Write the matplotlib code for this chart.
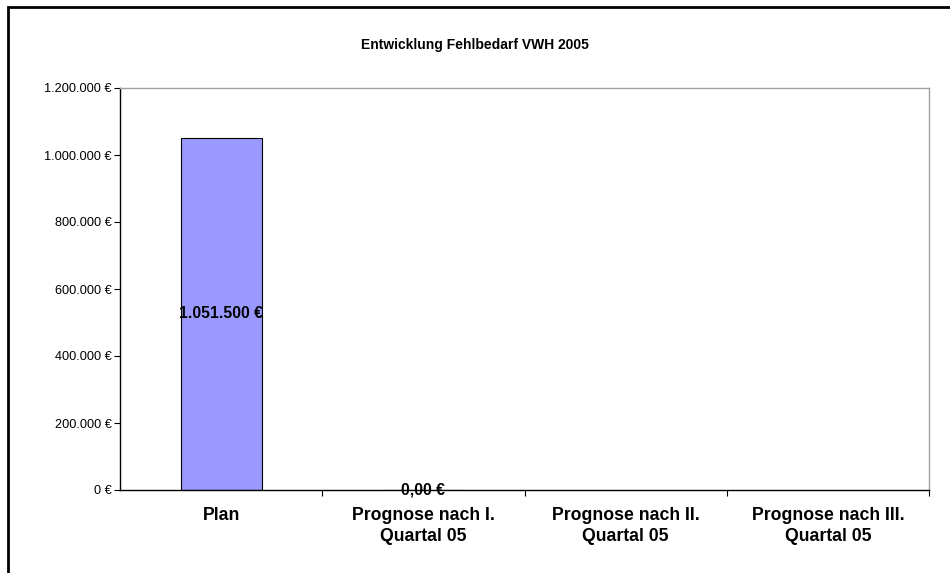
import matplotlib.pyplot as plt
import matplotlib.patches as patches
from matplotlib.ticker import FuncFormatter

plt.rcParams['font.family'] = ['Liberation Sans', 'DejaVu Sans']

# Data
categories = ['Plan', 'Prognose nach I.\nQuartal 05', 'Prognose nach II.\nQuartal 05',
              'Prognose nach III.\nQuartal 05']
values = [1051500, 0]
value_labels = ['1.051.500 €', '0,00 €']
y_ticks = [0, 200000, 400000, 600000, 800000, 1000000, 1200000]


def euro(v, pos=None):
    # German thousands separator
    return '{:,.0f} €'.format(v).replace(',', '.')


fig = plt.figure(figsize=(9.5, 5.73), dpi=100)
W, H = 950, 573
ax = fig.add_axes([120 / W, 1 - 490 / H, (929 - 120) / W, (490 - 88) / H])

x = list(range(len(values)))
ax.bar(x, values, width=0.4, color='#9999FF', edgecolor='black', linewidth=0.8, zorder=2)

for xi, v, lab in zip(x, values, value_labels):
    ax.text(xi, v / 2, lab, ha='center', va='center', fontsize=11.3, fontweight='bold', zorder=3)

ax.set_xlim(-0.5, len(categories) - 0.5)
ax.set_ylim(0, 1200000)
ax.set_yticks(y_ticks)
ax.yaxis.set_major_formatter(FuncFormatter(euro))
ax.tick_params(axis='y', labelsize=9.2, length=4, width=0.8, direction='out', pad=2)

ax.set_xticks(range(len(categories)))
ax.set_xticklabels(categories, fontsize=12.7, fontweight='bold', linespacing=1.3)
ax.set_xticks([i + 0.5 for i in range(len(categories))], minor=True)
ax.tick_params(axis='x', which='major', length=0, pad=12)
ax.tick_params(axis='x', which='minor', length=4, width=0.8, direction='out')

ax.spines['left'].set_color('black')
ax.spines['bottom'].set_color('black')
ax.spines['top'].set_color('#A0A0A0')
ax.spines['right'].set_color('#A0A0A0')
for s in ax.spines.values():
    s.set_linewidth(1.0)

fig.text(475 / W, 1 - 45 / H, 'Entwicklung Fehlbedarf VWH 2005', ha='center', va='center',
         fontsize=10, fontweight='bold')

# outer chart frame (cut at right and bottom)
frame = patches.Rectangle((8 / W, -0.1), 1.2, 1 - 7 / H + 0.1, transform=fig.transFigure,
                          fill=False, edgecolor='black', linewidth=2)
fig.patches.append(frame)

fig.savefig('out.png', dpi=100)
